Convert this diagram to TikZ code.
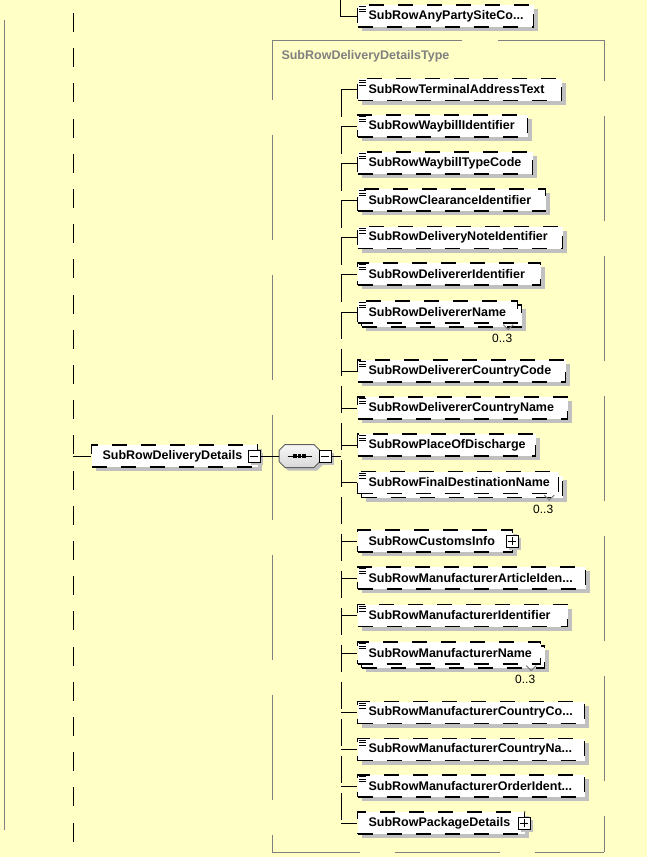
\documentclass[tikz,border=0pt]{standalone}
\usepackage{fontspec}
\setmainfont{Liberation Sans}
\usetikzlibrary{shadows}

\definecolor{xsbg}{HTML}{FFFFC6}
\definecolor{xsgray}{HTML}{808080}
\definecolor{xsshadow}{HTML}{C0C0C0}
\newcommand\xsdots{...}

\begin{document}
\begin{tikzpicture}[x=1pt,y=-1pt,line width=1pt,
  font=\fontsize{12.5}{15}\selectfont,
  elembox/.style={draw,line width=1.2pt,dash pattern=on 15pt off 14pt,fill=white,minimum height=22pt,
    inner xsep=11pt,inner ysep=0pt,anchor=west,align=left,
    font=\fontsize{12.5}{15}\selectfont\bfseries},
  elem/.style={elembox,drop shadow={shadow xshift=4pt,shadow yshift=-4pt,fill=xsshadow,opacity=1}},
  btn/.style={draw,fill=white,minimum size=12pt,inner sep=0pt,
    drop shadow={shadow xshift=3pt,shadow yshift=-3pt,fill=xsshadow,opacity=1}},
  tbox/.style={draw=xsgray,dash pattern=on 105pt off 35pt},
  bus/.style={dash pattern=on 27pt off 10pt},
  occ/.style={font=\fontsize{12}{14}\selectfont,inner sep=0pt}]
  \fill[xsbg,use as bounding box] (0,0) rectangle (647,857);
  % outer frame and parent line
  \draw[xsgray] (4,20) -- (4,830);
  \coordinate (ptop) at (73,13);
  \coordinate (pbot) at (73,857);
  \coordinate (pj) at (73,456);
  \draw[dash pattern=on 19pt off 16.2pt] (ptop) -- (pbot);
  % type box
  \draw[tbox,dash phase=17pt] (272,852) -- (604,852);
  \draw[tbox,dash phase=69pt] (604,852) -- (604,40);
  \draw[tbox,dash pattern=on 106pt off 36pt on 200pt off 1pt] (604,40) -- (272,40);
  \draw[tbox,dash phase=88pt] (272,852) -- (272,40);
  \node[text=xsgray,font=\fontsize{12.5}{15}\selectfont\bfseries,anchor=west,inner sep=0pt]
    (typelbl) at (281,56) {SubRowDeliveryDetailsType};
  % previous sibling (cut off)
  \node[elem,text width=154pt] (anyparty) at (357,16) {SubRowAnyPartySiteCo\xsdots};
  \draw[line width=0.8pt] ([shift={(2,2)}]anyparty.north west) -- ++(7,0)
    ([shift={(2,4.5)}]anyparty.north west) -- ++(7,0)
    ([shift={(2,7)}]anyparty.north west) -- ++(7,0);
  \coordinate (topin) at (340,0);
  \draw (topin) |- (anyparty.west);
  % element and sequence
  \node[elem,text width=144pt] (main) at (91,456) {SubRowDeliveryDetails};
  \node[btn] (mainbtn) at (254,456) {};
  \draw ([xshift=-4pt]mainbtn.center) -- ([xshift=4pt]mainbtn.center);
  \node[minimum width=40pt,minimum height=22pt,inner sep=0pt] (seq) at (299.5,456) {};
  \draw[draw=gray!75!black,top color=gray!6,bottom color=gray!30,
    drop shadow={shadow xshift=3pt,shadow yshift=-3pt,fill=xsshadow,opacity=1}]
    ([xshift=6pt]seq.north west) -- ([xshift=-6pt]seq.north east)
    -- ([yshift=-6pt]seq.north east) -- ([yshift=6pt]seq.south east)
    -- ([xshift=-6pt]seq.south east) -- ([xshift=6pt]seq.south west)
    -- ([yshift=6pt]seq.south west) -- ([yshift=-6pt]seq.north west) -- cycle;
  \draw ([xshift=-12pt]seq.center) -- ([xshift=12pt]seq.center);
  \foreach \dx in {-4.5,0,4.5}
    \fill ([shift={(\dx-1.6,-1.6)}]seq.center) rectangle ++(3.2,3.2);
  \node[btn] (seqbtn) at (325,456) {};
  \draw ([xshift=-4pt]seqbtn.center) -- ([xshift=4pt]seqbtn.center);
  \coordinate (sj) at (341,456);
  \draw (pj) -- (main.west);
  \draw (mainbtn.east) -- (seq.west);
  \draw (seqbtn.east) -- (sj);
  % children
  \foreach \n/\y/\w/\k/\t [evaluate=\w as \tw using \w-22] in {
    1/89.5/204/0/SubRowTerminalAddressText,
    2/126/170/0/SubRowWaybillIdentifier,
    3/163/175/0/SubRowWaybillTypeCode,
    4/200/188/0/SubRowClearanceIdentifier,
    5/237.5/205/0/SubRowDeliveryNoteIdentifier,
    6/274/183/0/SubRowDelivererIdentifier,
    7/312/160/1/SubRowDelivererName,
    8/371/208/0/SubRowDelivererCountryCode,
    9/408/210/0/SubRowDelivererCountryName,
    10/445/178/0/SubRowPlaceOfDischarge,
    11/482.5/201/1/SubRowFinalDestinationName,
    12/541/155/2/SubRowCustomsInfo,
    13/578/228/0/SubRowManufacturerArticleIden\xsdots,
    14/615.5/210/0/SubRowManufacturerIdentifier,
    15/653/183/1/SubRowManufacturerName,
    16/712.5/227/0/SubRowManufacturerCountryCo\xsdots,
    17/749.5/227/0/SubRowManufacturerCountryNa\xsdots,
    18/786/227/0/SubRowManufacturerOrderIdent\xsdots,
    19/823/167/2/SubRowPackageDetails} {
    \ifcase\k\relax
      \node[elem,text width=\tw pt] (c\n) at (357,\y) {\t};
    \or
      \node[elem,text width=\tw pt] (b\n) at (361,\y+4) {};
      \node[elembox,text width=\tw pt] (c\n) at (357,\y) {\t};
      \draw[xsgray] ([shift={(-15,1)}]c\n.south east) -- ++(5,5) -- ++(5,-5);
      \node[occ] (o\n) at ([shift={(-16,15)}]c\n.south east) {0..3};
    \or
      \node[elem,text width=\tw pt] (c\n) at (357,\y) {\t};
      \node[btn] (e\n) at ([xshift=-1pt]c\n.east) {};
      \draw ([xshift=-4pt]e\n.center) -- ([xshift=4pt]e\n.center)
        ([yshift=-4pt]e\n.center) -- ([yshift=4pt]e\n.center);
    \fi
    \ifnum\k<2
      \draw[line width=0.8pt] ([shift={(2,2)}]c\n.north west) -- ++(7,0)
        ([shift={(2,4.5)}]c\n.north west) -- ++(7,0)
        ([shift={(2,7)}]c\n.north west) -- ++(7,0);
    \fi
    \coordinate (j\n) at (341,\y);
    \draw (j\n) -- (c\n.west);
  }
  \draw[bus] (j1) -- (j19);
\end{tikzpicture}
\end{document}
